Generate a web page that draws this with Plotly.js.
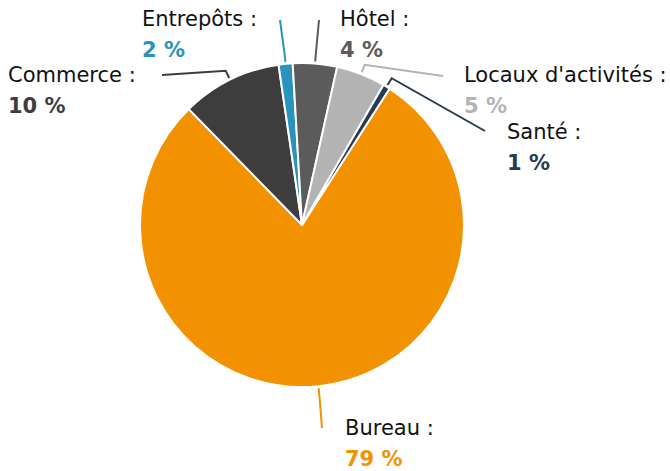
<!DOCTYPE html>
<html><head><meta charset="utf-8">
<script src="https://cdn.plot.ly/plotly-3.0.1.min.js"></script>
<style>html,body{margin:0;padding:0;background:#fff}</style>
</head><body><div id="chart" style="width:670px;height:471px"></div>
<script>
// Data
var categories = ["Bureau", "Commerce", "Entrepôts", "Hôtel", "Locaux d'activités", "Santé"];
var values = [78.6, 10.0, 1.4, 4.4, 4.9, 0.7];
var valueLabels = ["79 %", "10 %", "2 %", "4 %", "5 %", "1 %"];

// Styles
var colors = ["#f39200", "#3d3d3d", "#2a93bb", "#5b5b5b", "#b3b3b3", "#243b50"];
var W = 670, H = 471;
var M = {l: 140, r: 206, t: 63, b: 84};
var startAngle = 32.7; // degrees clockwise from 12 o'clock
// label layout: [name left x, name center y, line end x, line end y] in pixels
var labelLayout = [
  [343, 428, 322, 428],
  [6, 75, 162, 75],
  [140, 19, 280, 20],
  [338, 19, 319, 20],
  [462, 75, 443, 76],
  [505, 132, 485, 131]
];

var pw = W - M.l - M.r, ph = H - M.t - M.b;
var cx = M.l + pw / 2, cy = M.t + ph / 2, R = Math.min(pw, ph) / 2;
function px(x) { return (x - M.l) / pw; }
function py(y) { return (H - M.b - y) / ph; }

var total = values.reduce(function (a, b) { return a + b; }, 0);
var shapes = [], annotations = [];
var acc = 0;
values.forEach(function (v, i) {
  var mid = (startAngle + (acc + v / 2) / total * 360) * Math.PI / 180;
  acc += v;
  var p1 = [cx + (R + 2) * Math.sin(mid), cy - (R + 2) * Math.cos(mid)];
  var p2 = [cx + (R + 10) * Math.sin(mid), cy - (R + 10) * Math.cos(mid)];
  var L = labelLayout[i];
  var path = "M " + px(p1[0]) + "," + py(p1[1]) + " L " + px(p2[0]) + "," + py(p2[1]) + " L " + px(L[2]) + "," + py(L[3]);
  shapes.push({type: "path", xref: "paper", yref: "paper", path: path, line: {color: colors[i], width: 2}});
  annotations.push({xref: "paper", yref: "paper", x: px(L[0]), y: py(L[1]), xanchor: "left", yanchor: "middle",
    text: categories[i] + " :", showarrow: false, font: {family: "DejaVu Sans", size: 21, color: "#111"}});
  annotations.push({xref: "paper", yref: "paper", x: px(L[0]), y: py(L[1] + 31), xanchor: "left", yanchor: "middle",
    text: "<b>" + valueLabels[i] + "</b>", showarrow: false, font: {family: "DejaVu Sans", size: 21, color: colors[i]}});
});

var trace = {
  type: "pie", labels: categories, values: values, sort: false, direction: "clockwise",
  rotation: startAngle, textinfo: "none", hoverinfo: "none",
  marker: {colors: colors, line: {color: "#ffffff", width: 2}},
  domain: {x: [0, 1], y: [0, 1]}
};
Plotly.newPlot("chart", [trace], {
  width: W, height: H, margin: M, showlegend: false,
  paper_bgcolor: "#fff", plot_bgcolor: "#fff",
  shapes: shapes, annotations: annotations
}, {staticPlot: true});
</script></body></html>
